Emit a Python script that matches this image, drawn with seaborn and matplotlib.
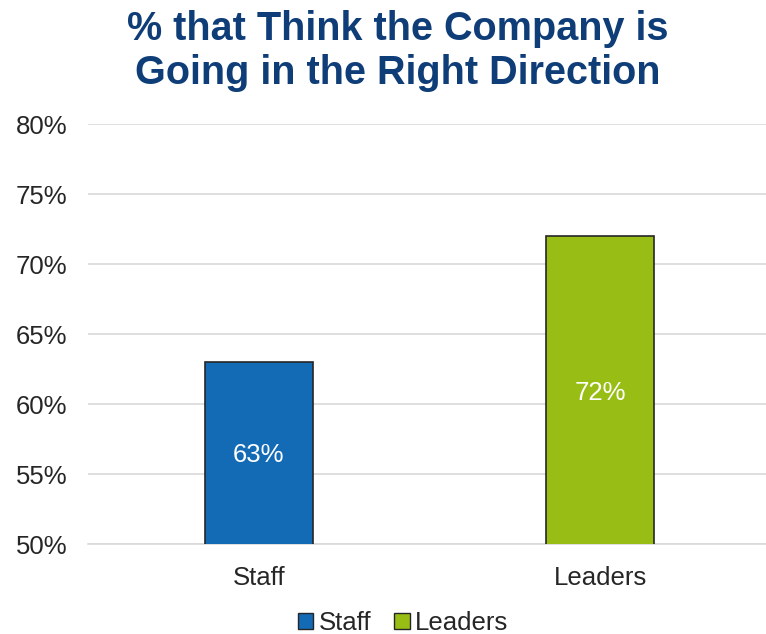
import matplotlib
matplotlib.use("Agg")
import matplotlib.pyplot as plt
import seaborn as sns
import pandas as pd
from matplotlib.patches import Patch
from matplotlib.ticker import FuncFormatter

# Survey results
groups = ["Staff", "Leaders"]
values = [63, 72]
bar_colors = ["#136AB5", "#98BE15"]
y_ticks = [50, 55, 60, 65, 70, 75, 80]
title_text = "% that Think the Company is\nGoing in the Right Direction"

sns.set_theme(style="white")
plt.rcParams["font.family"] = ["Liberation Sans", "DejaVu Sans"]

df = pd.DataFrame({"group": groups, "value": values})

W, H = 766, 634
fig = plt.figure(figsize=(W / 100, H / 100), dpi=100)
ax = fig.add_axes([88 / W, 1 - 544 / H, 683 / W, 420 / H])

sns.barplot(data=df, x="group", y="value", hue="group", palette=bar_colors,
            saturation=1, width=0.315, edgecolor="#262626", linewidth=1.2,
            legend=False, ax=ax, zorder=3)

ax.set_ylim(50, 80)
ax.set_xlim(-0.5, 1.5)
ax.set_yticks(y_ticks)
ax.yaxis.set_major_formatter(FuncFormatter(lambda v, _: f"{v:.0f}%"))
ax.grid(axis="y", color="#d9d9d9", linewidth=1.2, zorder=0)
ax.set_axisbelow(True)
for s in ["top", "right", "left"]:
    ax.spines[s].set_visible(False)
ax.spines["bottom"].set_color("#d9d9d9")
ax.spines["bottom"].set_linewidth(1.2)
ax.tick_params(axis="y", length=0, pad=15, labelsize=18.5, labelcolor="#262626")
ax.tick_params(axis="x", length=0, pad=16, labelsize=18.5, labelcolor="#262626")
ax.set_xlabel("")
ax.set_ylabel("")

# Value labels inside the bars
for i, v in enumerate(values):
    ax.text(i, (50 + v) / 2, f"{v}%", ha="center", va="center_baseline",
            color="white", fontsize=18.5, zorder=4)

fig.text(398 / W, 1 - 51 / H, title_text, ha="center", va="center",
         fontsize=28.5, fontweight="bold", color="#0E3D78", linespacing=1.18)

handles = [Patch(facecolor=c, edgecolor="#262626", linewidth=1.0, label=g)
           for g, c in zip(groups, bar_colors)]
fig.legend(handles=handles, loc="center", bbox_to_anchor=(403 / W, 1 - 623 / H),
           ncol=2, frameon=False, fontsize=18.5, handlelength=0.6, handleheight=0.6,
           handletextpad=0.2, columnspacing=0.9, labelcolor="#262626")

fig.savefig("out.png", dpi=100)
